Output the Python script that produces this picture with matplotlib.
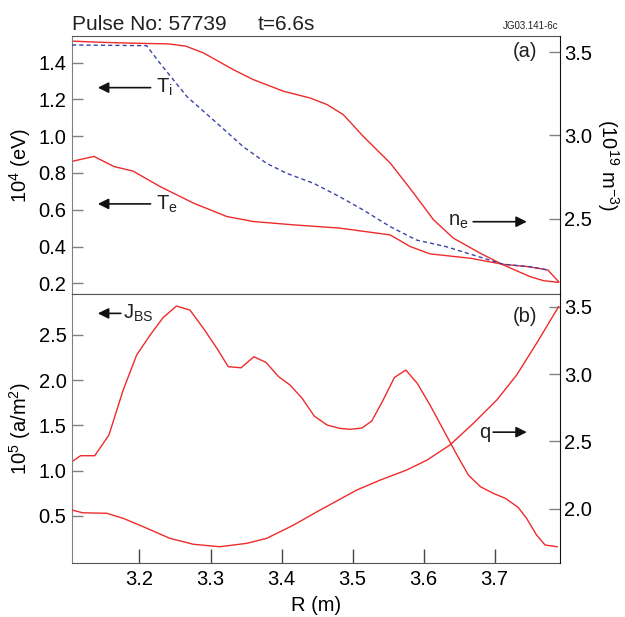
import numpy as np
import matplotlib
matplotlib.use("Agg")
import matplotlib.pyplot as plt

plt.rcParams['font.family'] = ['Liberation Sans', 'DejaVu Sans']
plt.rcParams['mathtext.fontset'] = 'custom'
plt.rcParams['mathtext.rm'] = 'Liberation Sans'
plt.rcParams['mathtext.it'] = 'Liberation Sans'
plt.rcParams['text.color'] = '#231f20'

# panel (a): temperatures (left axis, 10^4 eV) and density (right axis, 10^19 m^-3)
r_ti = [3.105, 3.15, 3.2, 3.24, 3.265, 3.29, 3.332, 3.36, 3.403, 3.44, 3.464, 3.487,
        3.515, 3.553, 3.586, 3.614, 3.642, 3.68, 3.712, 3.75, 3.769, 3.79]
ti = [1.517, 1.51, 1.505, 1.502, 1.49, 1.453, 1.362, 1.308, 1.244, 1.208, 1.172, 1.117,
      0.999, 0.854, 0.69, 0.545, 0.445, 0.363, 0.30, 0.236, 0.214, 0.205]

r_te = [3.105, 3.136, 3.164, 3.191, 3.229, 3.276, 3.323, 3.36, 3.416, 3.482,
        3.553, 3.581, 3.609, 3.666, 3.712, 3.748, 3.775, 3.79]
te = [0.863, 0.89, 0.835, 0.81, 0.726, 0.636, 0.563, 0.536, 0.518, 0.50,
      0.463, 0.40, 0.36, 0.336, 0.303, 0.29, 0.272, 0.209]

r_ne = [3.105, 3.21, 3.229, 3.267, 3.304, 3.346, 3.379, 3.407, 3.445, 3.482,
        3.515, 3.553, 3.59, 3.632, 3.67, 3.712, 3.75, 3.775]
ne = [3.542, 3.538, 3.432, 3.232, 3.093, 2.933, 2.833, 2.774, 2.714, 2.633,
      2.554, 2.454, 2.374, 2.334, 2.284, 2.229, 2.214, 2.195]

# panel (b): bootstrap current (left, 10^5 A/m^2) and safety factor q (right)
r_jbs = [3.105, 3.117, 3.137, 3.157, 3.177, 3.196, 3.215, 3.233, 3.252, 3.271,
         3.29, 3.309, 3.325, 3.343, 3.361, 3.378, 3.396, 3.412, 3.429, 3.446,
         3.464, 3.482, 3.496, 3.513, 3.527, 3.543, 3.559, 3.575, 3.591, 3.609,
         3.628, 3.647, 3.663, 3.68, 3.698, 3.715, 3.733, 3.745, 3.759, 3.771, 3.788]
jbs = [1.098, 1.164, 1.164, 1.393, 1.89, 2.278, 2.499, 2.69, 2.82, 2.776,
       2.573, 2.352, 2.149, 2.137, 2.259, 2.197, 2.038, 1.946, 1.799, 1.603,
       1.504, 1.467, 1.456, 1.47, 1.548, 1.78, 2.031, 2.112, 1.965, 1.725,
       1.448, 1.172, 0.95, 0.821, 0.748, 0.693, 0.593, 0.471, 0.287, 0.176, 0.157]

r_q = [3.105, 3.12, 3.154, 3.177, 3.205, 3.243, 3.276, 3.313, 3.351, 3.379,
       3.417, 3.45, 3.482, 3.506, 3.539, 3.576, 3.605, 3.637, 3.67, 3.703,
       3.731, 3.759, 3.79]
q = [1.99, 1.97, 1.966, 1.929, 1.867, 1.78, 1.736, 1.718, 1.743, 1.78,
     1.879, 1.978, 2.07, 2.139, 2.213, 2.287, 2.362, 2.473, 2.634, 2.807,
     2.993, 3.228, 3.5]

x_ticks = [3.2, 3.3, 3.4, 3.5, 3.6, 3.7]
red = '#ee2b2b'
blue = '#3a44a8'
grey = '#808080'
fs = 14.5

fig = plt.figure(figsize=(6.25, 6.17), dpi=100)
axa = fig.add_axes([0.1152, 0.523, 0.7808, 0.4187])
axb = fig.add_axes([0.1152, 0.0875, 0.7808, 0.4355])
axa2 = axa.twinx()
axb2 = axb.twinx()

axa.plot(r_ti, ti, color=red, lw=1.0)
axa.plot(r_te, te, color=red, lw=1.0)
axa2.plot(r_ne, ne, color=blue, lw=1.0, dashes=(3, 2.2))
axb.plot(r_jbs, jbs, color=red, lw=1.0)
axb2.plot(r_q, q, color=red, lw=1.0)

for ax in (axa, axb, axa2, axb2):
    ax.set_xlim(3.105, 3.792)
axa.set_ylim(0.14, 1.545)
axa2.set_ylim(2.049, 3.596)
axb.set_ylim(-0.023, 2.95)
axb2.set_ylim(1.597, 3.592)

axa.set_yticks([0.2, 0.4, 0.6, 0.8, 1.0, 1.2, 1.4])
axa2.set_yticks([2.5, 3.0, 3.5])
axb.set_yticks([0.5, 1.0, 1.5, 2.0, 2.5])
axb2.set_yticks([2.0, 2.5, 3.0, 3.5])
axa.set_xticks([])
axb.set_xticks(x_ticks)
axb.set_xticklabels([f'{v:.1f}' for v in x_ticks])

for ax in (axa, axb):
    ax.tick_params(axis='y', direction='in', length=8, width=1, color=grey,
                   labelsize=fs, pad=4)
    ax.spines['left'].set_color(grey)
    ax.spines['top'].set_color('#555555')
    ax.spines['bottom'].set_color('#555555')
    ax.spines['right'].set_visible(False)
for ax in (axa2, axb2):
    ax.tick_params(axis='y', direction='in', length=8, width=1, color=grey,
                   labelsize=fs, pad=3)
    ax.spines['right'].set_color('#111111')
    for s in ('left', 'top', 'bottom'):
        ax.spines[s].set_visible(False)
axb.tick_params(axis='x', direction='in', length=10, width=1, color='#444444',
                labelsize=fs, pad=5)

axb.set_xlabel('R (m)', fontsize=fs, labelpad=5)
axa.set_ylabel(r'10$^{4}$ (eV)', fontsize=fs)
axa.yaxis.set_label_coords(-0.08, 0.5)
axb.set_ylabel(r'10$^{5}$ (a/m$^{2}$)', fontsize=fs)
axb.yaxis.set_label_coords(-0.08, 0.5)
axa2.set_ylabel(r'(10$^{19}$ m$^{-3}$)', fontsize=fs, rotation=270, va='center')
axa2.yaxis.set_label_coords(1.098, 0.5)

arrow = dict(arrowstyle='-|>', color='#111111', lw=1.2, mutation_scale=16,
             shrinkA=0, shrinkB=0)
# panel (a) annotations
axa.text(0.953, 0.938, '(a)', transform=axa.transAxes, ha='right', va='center', fontsize=fs)
axa.annotate('', xy=(0.053, 0.80), xytext=(0.161, 0.80),
             xycoords='axes fraction', arrowprops=arrow)
axa.text(0.172, 0.80, r'T$_\mathregular{i}$', transform=axa.transAxes,
         ha='left', va='center', fontsize=fs)
axa.annotate('', xy=(0.053, 0.35), xytext=(0.161, 0.35),
             xycoords='axes fraction', arrowprops=arrow)
axa.text(0.172, 0.35, r'T$_\mathregular{e}$', transform=axa.transAxes,
         ha='left', va='center', fontsize=fs)
axa.annotate('', xy=(0.932, 0.281), xytext=(0.822, 0.281),
             xycoords='axes fraction', arrowprops=arrow)
axa.text(0.812, 0.281, r'n$_\mathregular{e}$', transform=axa.transAxes,
         ha='right', va='center', fontsize=fs)

# panel (b) annotations
axb.text(0.953, 0.917, '(b)', transform=axb.transAxes, ha='right', va='center', fontsize=fs)
axb.annotate('', xy=(0.053, 0.929), xytext=(0.100, 0.929),
             xycoords='axes fraction', arrowprops=arrow)
axb.text(0.105, 0.929, r'J$_\mathregular{BS}$', transform=axb.transAxes,
         ha='left', va='center', fontsize=fs)
axb.annotate('', xy=(0.932, 0.487), xytext=(0.863, 0.487),
             xycoords='axes fraction', arrowprops=arrow)
axb.text(0.857, 0.487, 'q', transform=axb.transAxes,
         ha='right', va='center', fontsize=fs)

fig.text(0.115, 0.951, 'Pulse No: 57739', fontsize=15, va='baseline', ha='left')
fig.text(0.413, 0.951, 't=6.6s', fontsize=15, va='baseline', ha='left')
fig.text(0.894, 0.953, 'JG03.141-6c', fontsize=7, va='baseline', ha='right')

fig.savefig('out.png', dpi=100)
